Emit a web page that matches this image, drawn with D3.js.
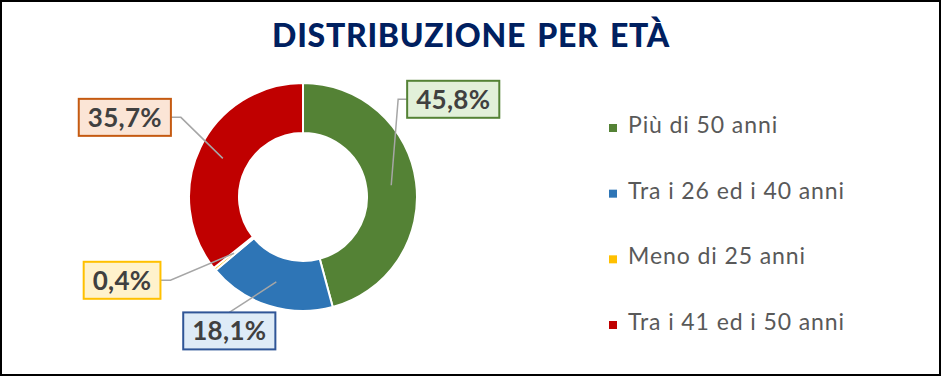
<!DOCTYPE html>
<html>
<head>
<meta charset="utf-8">
<script src="https://cdn.jsdelivr.net/npm/d3@7"></script>
<style>
  body { margin: 0; background: #fff; }
  svg { display: block; font-family: Lato, "Open Sans", sans-serif; }
</style>
</head>
<body>
<div id="chart"></div>
<script>
const categories = ['Più di 50 anni', 'Tra i 26 ed i 40 anni', 'Meno di 25 anni', 'Tra i 41 ed i 50 anni'];
const values = [45.8, 18.1, 0.4, 35.7];
const valueLabels = ['45,8%', '18,1%', '0,4%', '35,7%'];
const colors = ['#548235', '#2E75B6', '#FFC000', '#C00000'];
const labelFills = ['#E2F0D9', '#DEEBF7', '#FFF2CC', '#FBE5D6'];
const labelStrokes = ['#548235', '#2F5597', '#FFC000', '#C55A11'];

const width = 942, height = 378;
const cx = 303, cy = 197, outerR = 114, innerR = 64;

const data = categories.map((c, i) => ({
    name: c, value: values[i], label: valueLabels[i],
    color: colors[i], fill: labelFills[i], stroke: labelStrokes[i]
}));

const svg = d3.select('#chart').append('svg')
    .attr('width', width)
    .attr('height', height);

svg.append('rect')
    .attr('x', 1).attr('y', 1)
    .attr('width', 939).attr('height', 374)
    .attr('fill', '#fff')
    .attr('stroke', '#000')
    .attr('stroke-width', 2);

svg.append('text')
    .attr('x', 471)
    .attr('y', 47)
    .attr('text-anchor', 'middle')
    .attr('font-size', 32)
    .attr('font-weight', 900)
    .attr('letter-spacing', 0.7)
    .attr('word-spacing', 3)
    .attr('fill', '#002060')
    .text('DISTRIBUZIONE PER ETÀ');

const pie = d3.pie().sort(null).value(d => d.value);
const arcs = pie(data);

const arc = d3.arc().innerRadius(innerR).outerRadius(outerR);

const g = svg.append('g')
    .attr('transform', `translate(${cx}, ${cy})`);

g.selectAll('path.slice')
    .data(arcs)
    .enter()
    .append('path')
    .attr('class', 'slice')
    .attr('d', arc)
    .attr('fill', d => d.data.color)
    .attr('stroke', '#fff')
    .attr('stroke-width', 2);

// label boxes placed relative to each slice centroid (side: which edge the leader meets)
const labelLayout = {
    'Più di 50 anni': {dx: 62, dy: -86, side: 'left'},
    'Tra i 26 ed i 40 anni': {dx: -47, dy: 49, side: 'top'},
    'Meno di 25 anni': {dx: -112, dy: 27, side: 'right'},
    'Tra i 41 ed i 50 anni': {dx: -98, dy: -41, side: 'right'}
};
const boxH = 37;

const labels = g.selectAll('g.lbl')
    .data(arcs)
    .enter()
    .append('g')
    .attr('class', 'lbl');

labels.each(function(d) {
    const sel = d3.select(this);
    const [px, py] = arc.centroid(d);
    const lay = labelLayout[d.data.name];
    const bx = px + lay.dx, by = py + lay.dy; // box center

    const txt = sel.append('text')
        .attr('x', bx)
        .attr('y', by + 9.5)
        .attr('text-anchor', 'middle')
        .attr('font-size', 26)
        .attr('font-weight', 700)
        .attr('letter-spacing', 0.3)
        .attr('fill', '#404040')
        .text(d.data.label);
    const w = txt.node().getComputedTextLength() + 18;

    let pts;
    if (lay.side === 'left') {
        const ex = bx - w / 2;
        pts = [[px, py], [ex - 9, by], [ex, by]];
    } else if (lay.side === 'right') {
        const ex = bx + w / 2;
        pts = [[px, py], [ex + 10, by], [ex, by]];
    } else {
        pts = [[px, py], [bx, by - boxH / 2]];
    }
    sel.insert('path', 'text')
        .attr('d', d3.line()(pts))
        .attr('fill', 'none')
        .attr('stroke', '#A6A6A6')
        .attr('stroke-width', 1.5);

    sel.insert('rect', 'text')
        .attr('x', bx - w / 2)
        .attr('y', by - boxH / 2)
        .attr('width', w)
        .attr('height', boxH)
        .attr('fill', d.data.fill)
        .attr('stroke', d.data.stroke)
        .attr('stroke-width', 2);
});

// legend
const legendY = d3.scalePoint()
    .domain(categories)
    .range([133, 330]);

const legend = svg.selectAll('g.legend')
    .data(data)
    .enter()
    .append('g')
    .attr('class', 'legend')
    .attr('transform', d => `translate(609, ${legendY(d.name)})`);

legend.append('rect')
    .attr('x', 0)
    .attr('y', -9)
    .attr('width', 8)
    .attr('height', 8)
    .attr('fill', d => d.color);

legend.append('text')
    .attr('x', 19)
    .attr('y', 0)
    .attr('font-size', 23)
    .attr('letter-spacing', 0.9)
    .attr('fill', '#595959')
    .text(d => d.name);
</script>
</body>
</html>
